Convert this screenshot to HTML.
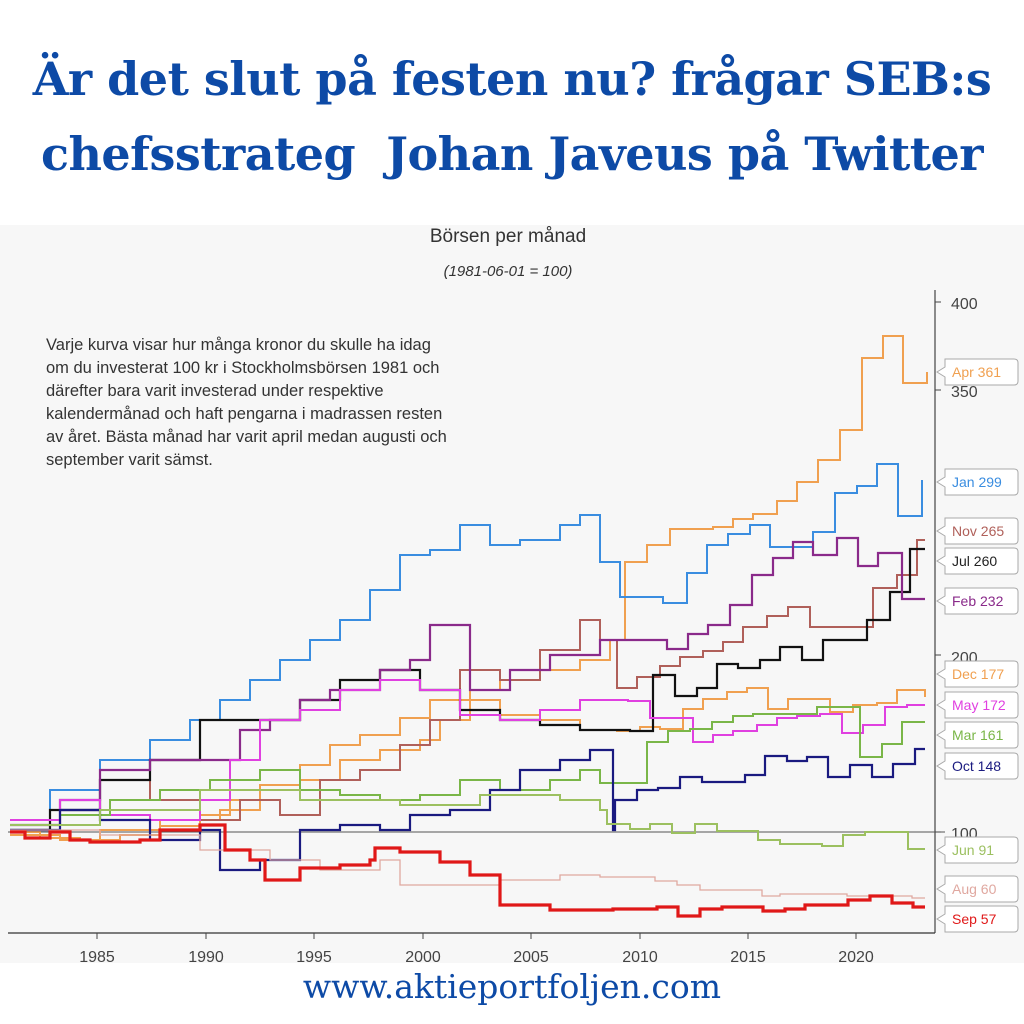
<!DOCTYPE html>
<html><head><meta charset="utf-8">
<style>
html,body{margin:0;padding:0;background:#fff;}
body{width:1024px;height:1024px;position:relative;overflow:hidden;}
.t{position:absolute;left:0;width:1024px;text-align:center;font-family:"DejaVu Serif","Liberation Serif",serif;font-weight:bold;color:#0d4aa6;font-size:46px;white-space:nowrap;letter-spacing:-0.5px}
</style></head><body>
<div class="t" style="top:52px">Är det slut på festen nu? frågar SEB:s</div>
<div class="t" style="top:127px">chefsstrateg&nbsp; Johan Javeus på Twitter</div>
<svg width="1024" height="1024" style="position:absolute;left:0;top:0" xmlns="http://www.w3.org/2000/svg">
<rect x="0" y="225" width="1024" height="738" fill="#f7f7f7"/>
<g font-family="Liberation Sans, sans-serif" fill="#333">
<text x="508" y="242" font-size="19" text-anchor="middle">Börsen per månad</text>
<text x="508" y="276" font-size="15" font-style="italic" text-anchor="middle">(1981-06-01 = 100)</text>
<g font-size="16.5">
<text x="46" y="350">Varje kurva visar hur många kronor du skulle ha idag</text>
<text x="46" y="373">om du investerat 100 kr i Stockholmsbörsen 1981 och</text>
<text x="46" y="396">därefter bara varit investerad under respektive</text>
<text x="46" y="419">kalendermånad och haft pengarna i madrassen resten</text>
<text x="46" y="442">av året. Bästa månad har varit april medan augusti och</text>
<text x="46" y="465">september varit sämst.</text>
</g>
<g font-size="16" fill="#444">
<text x="951" y="309">400</text><text x="951" y="397">350</text><text x="951" y="663">200</text><text x="951" y="839">100</text>
<g text-anchor="middle"><text x="97" y="962">1985</text><text x="206" y="962">1990</text><text x="314" y="962">1995</text><text x="423" y="962">2000</text><text x="531" y="962">2005</text><text x="640" y="962">2010</text><text x="748" y="962">2015</text><text x="856" y="962">2020</text></g>
</g>
</g>
<line x1="935" y1="290" x2="935" y2="933" stroke="#444" stroke-width="1.2"/>
<line x1="8" y1="933" x2="935" y2="933" stroke="#333" stroke-width="1.2"/>
<line x1="8" y1="832" x2="945" y2="832" stroke="#555" stroke-width="1"/>
<g stroke="#444"><line x1="935" y1="302" x2="941" y2="302"/><line x1="935" y1="390" x2="941" y2="390"/><line x1="935" y1="655" x2="941" y2="655"/><line x1="935" y1="832" x2="941" y2="832"/>
<line x1="97" y1="933" x2="97" y2="939"/><line x1="206" y1="933" x2="206" y2="939"/><line x1="314" y1="933" x2="314" y2="939"/><line x1="423" y1="933" x2="423" y2="939"/><line x1="531" y1="933" x2="531" y2="939"/><line x1="640" y1="933" x2="640" y2="939"/><line x1="748" y1="933" x2="748" y2="939"/><line x1="856" y1="933" x2="856" y2="939"/></g>
<g id="series" fill="none" stroke-linejoin="miter"></g>
<g id="labels" font-family="Liberation Sans, sans-serif" font-size="14"></g>
<text x="512" y="998" font-family="DejaVu Serif, Liberation Serif, serif" font-size="33" fill="#0d4aa6" text-anchor="middle">www.aktieportfoljen.com</text>
</svg>
<script>
var S=[
["#f0a050",2,[[10,832],[40,838],[80,840],[120,835],[160,826],[200,815],[230,800],[260,785],[300,765],[330,745],[360,735],[400,718],[430,700],[470,690],[500,680],[540,670],[580,660],[610,640],[625,562],[647,545],[670,529],[713,527],[733,519],[753,514],[777,501],[797,482],[818,460],[840,430],[862,358],[883,336],[903,383],[927,372]]],
["#f0a050",2,[[10,835],[60,840],[100,830],[160,820],[220,810],[260,790],[300,780],[340,760],[380,750],[420,740],[440,720],[470,700],[500,715],[540,720],[580,730],[617,731],[640,727],[660,729],[683,709],[703,699],[727,692],[747,688],[768,709],[788,699],[830,712],[853,705],[877,703],[897,690],[925,697]]],
["#3a8de0",2,[[10,820],[50,790],[100,760],[150,740],[190,720],[220,700],[250,680],[280,660],[310,640],[340,620],[370,590],[400,555],[430,550],[460,525],[490,545],[520,540],[560,525],[580,515],[600,562],[620,597],[663,603],[687,573],[707,545],[728,534],[750,525],[770,547],[813,532],[835,493],[857,486],[877,464],[898,516],[922,480]]],
["#b0605a",2,[[10,830],[60,810],[100,770],[150,800],[200,820],[240,800],[280,815],[320,780],[360,770],[400,745],[430,720],[460,670],[500,680],[540,650],[580,620],[600,640],[617,688],[637,677],[660,666],[680,657],[703,651],[723,642],[743,627],[767,616],[788,607],[810,627],[830,627],[873,588],[897,575],[917,540],[925,540]]],
["#111",2.2,[[10,830],[50,810],[100,780],[150,760],[200,720],[240,720],[270,720],[300,700],[340,680],[380,670],[420,690],[460,710],[500,720],[540,725],[580,730],[630,731],[653,675],[675,696],[697,688],[717,664],[738,668],[760,660],[780,647],[802,660],[823,640],[847,640],[867,620],[890,592],[910,549],[925,549]]],
["#8a2a8a",2.2,[[10,825],[60,800],[100,770],[150,760],[200,760],[240,730],[270,720],[300,700],[330,690],[380,670],[410,660],[430,625],[470,690],[510,670],[550,655],[600,640],[622,640],[667,649],[688,634],[708,625],[730,605],[752,575],[773,558],[793,542],[813,555],[837,538],[858,566],[878,553],[902,599],[925,599]]],
["#e040e0",2,[[10,820],[60,800],[100,815],[150,820],[200,800],[230,760],[260,720],[300,710],[340,690],[380,680],[420,690],[460,715],[500,720],[540,710],[580,700],[628,701],[650,718],[693,742],[713,735],[733,731],[757,725],[777,718],[797,716],[820,714],[842,733],[863,725],[885,707],[907,705],[925,705]]],
["#7ab648",2,[[10,825],[60,815],[110,800],[160,790],[210,780],[260,770],[300,790],[340,795],[380,800],[420,795],[460,780],[500,790],[550,780],[580,770],[600,783],[623,783],[647,742],[668,731],[690,729],[712,722],[733,716],[753,714],[795,714],[817,707],[838,707],[860,757],[882,744],[902,722],[925,722]]],
["#1a1a80",2.2,[[10,830],[60,810],[100,820],[150,840],[200,830],[220,870],[260,860],[300,830],[340,825],[380,830],[410,815],[450,810],[490,790],[520,770],[560,760],[590,750],[613,830],[615,800],[637,790],[658,788],[680,777],[702,782],[723,782],[745,775],[765,756],[787,761],[807,757],[828,777],[850,765],[872,777],[893,764],[915,749],[925,749]]],
["#9cc060",2,[[10,825],[100,810],[200,790],[300,800],[400,805],[480,795],[560,800],[600,810],[607,824],[630,829],[650,824],[672,833],[695,824],[717,831],[758,840],[780,844],[800,844],[822,846],[843,835],[865,832],[908,849],[925,849]]],
["#e0a8a0",1.3,[[10,830],[100,835],[200,850],[270,860],[320,870],[380,860],[400,885],[460,885],[500,880],[560,875],[600,877],[655,881],[677,885],[700,890],[762,896],[780,894],[847,896],[912,898],[925,898]]],
["#e01818",3.2,[[10,832],[25,838],[50,832],[70,840],[90,842],[140,840],[160,830],[200,825],[225,850],[250,860],[265,880],[300,868],[340,865],[370,860],[375,848],[400,852],[440,862],[470,875],[500,905],[550,910],[613,909],[633,909],[657,907],[678,916],[700,909],[722,907],[763,911],[785,909],[805,905],[827,905],[848,900],[870,896],[892,903],[913,907],[925,907]]]
];
var g=document.getElementById('series'),h='';
S.forEach(function(s){var p=s[2],d='M'+p[0][0]+' '+p[0][1];
for(var i=1;i<p.length;i++){d+=' H'+p[i][0]+' V'+p[i][1];}
h+='<path d="'+d+'" stroke="'+s[0]+'" stroke-width="'+s[1]+'"/>';});
g.innerHTML=h;
var L=[["Apr 361","#f0a050",372],["Jan 299","#3a8de0",482],["Nov 265","#b0605a",531],["Jul 260","#222",561],["Feb 232","#8a2a8a",601],["Dec 177","#f0a050",674],["May 172","#e040e0",705],["Mar 161","#7ab648",735],["Oct 148","#1a1a80",766],["Jun 91","#9cc060",850],["Aug 60","#e0a8a0",889],["Sep 57","#e01818",919]];
var lh='';L.forEach(function(l){var y=l[2];
lh+='<path d="M945 '+(y-13)+' H1014 Q1018 '+(y-13)+' 1018 '+(y-9)+' V'+(y+9)+' Q1018 '+(y+13)+' 1014 '+(y+13)+' H945 V'+(y+5)+' L937 '+y+' L945 '+(y-5)+' Z" fill="#fff" stroke="#aaa" stroke-width="1"/>';
lh+='<text x="952" y="'+(y+5)+'" fill="'+l[1]+'">'+l[0]+'</text>';});
document.getElementById('labels').innerHTML=lh;
</script>
</body></html>
